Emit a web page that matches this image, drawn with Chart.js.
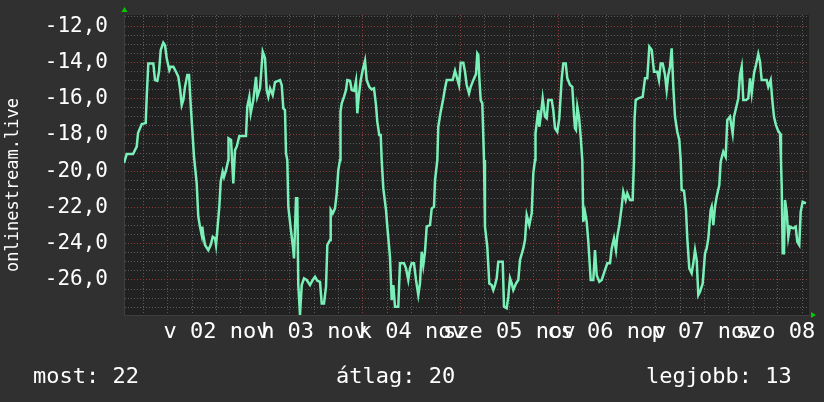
<!DOCTYPE html>
<html>
<head>
<meta charset="utf-8">
<script src="https://cdn.jsdelivr.net/npm/chart.js"></script>
<style>
  html, body { margin: 0; padding: 0; background: #303030; }
  canvas { display: block; }
</style>
</head>
<body>
<canvas id="graph" width="824" height="402"></canvas>
<script>
// hours since "v 02 nov" 00:00
const hours = [
  -10.75, -10.08, -8.53, -7.62, -7.30, -6.39, -5.41, -5.16, -4.77, -3.54, -3.12, -2.56, -2.14, -1.72, -1.08, -0.66, -0.25,
  0.39, 0.74, 1.38, 2.04, 2.61, 3.02, 3.44, 3.84, 4.25, 4.82, 5.24, 5.66, 6.15, 6.47, 7.13, 7.52, 7.94, 8.36, 8.51, 8.75,
  9.17, 9.98, 10.57, 11.07, 11.63, 11.88, 12.20, 12.69, 13.03, 13.52, 13.84, 14.34, 14.90, 14.95, 15.57, 16.13, 16.55,
  16.97, 17.61, 19.25, 19.57, 20.07, 20.41, 21.05, 21.71, 22.03, 22.70, 23.36, 23.93, 24.34, 24.74, 25.16, 25.82, 26.39,
  27.61, 28.03, 28.43, 28.84, 29.09, 29.41, 29.66, 30.25, 30.74, 31.06, 31.30, 31.55, 31.87, 32.11, 32.53, 32.95, 33.52,
  34.18, 34.99, 35.66, 36.22, 36.79, 37.45, 37.87, 38.43, 38.93, 39.25, 39.91, 40.08, 40.57, 41.14, 41.56, 41.95, 42.37,
  42.49, 42.79, 43.35, 43.84, 44.16, 44.83, 45.25, 45.81, 46.30, 46.62, 46.97, 47.46, 47.95, 48.52, 48.93, 49.57, 50.16,
  50.73, 51.22, 51.54, 52.03, 52.38, 52.62, 53.02, 53.68, 54.00, 54.66, 55.08, 55.48, 55.89, 56.70, 57.12, 58.11, 58.60,
  59.16, 59.58, 60.00, 60.56, 61.06, 61.62, 62.04, 62.46, 62.85, 63.27, 63.69, 64.50, 64.92, 65.48, 65.73, 66.30, 66.54,
  67.13, 67.77, 68.19, 68.61, 70.08, 70.65, 71.07, 71.63, 72.05, 72.69, 73.11, 73.52, 74.09, 74.51, 75.15, 75.81, 76.13,
  76.38, 76.62, 76.97, 77.36, 77.78, 78.02, 78.59, 79.08, 79.67, 80.06, 80.48, 80.90, 81.29, 82.38, 82.70, 83.36, 83.75,
  84.17, 84.59, 84.98, 85.65, 86.21, 86.63, 87.44, 87.86, 88.28, 88.92, 89.51, 89.90, 90.32, 90.44, 90.74, 91.13, 91.38,
  91.72, 92.21, 92.78, 93.20, 93.59, 94.43, 94.82, 95.24, 95.80, 96.29, 96.89, 97.28, 97.87, 98.26, 98.93, 99.49, 99.91,
  100.15, 100.40, 100.72, 101.14, 101.55, 101.95, 102.19, 102.61, 103.03, 103.43, 104.02, 104.66, 105.07, 105.49, 106.13,
  106.72, 107.53, 108.10, 108.76, 109.18, 109.74, 110.23, 110.56, 111.05, 111.64, 112.03, 112.62, 113.02, 113.68, 114.34,
  114.66, 114.79, 115.08, 115.72, 116.80, 117.37, 117.93, 118.43, 119.02, 119.58, 120.39, 120.81, 121.23, 121.72, 122.29,
  122.70, 123.10, 123.52, 123.93, 124.33, 124.75, 125.31, 125.80, 126.15, 126.39, 126.96, 127.45, 127.77, 128.26, 128.85,
  129.25, 129.67, 130.08, 130.48, 130.90, 131.56, 132.13, 132.54, 132.94, 133.52, 133.77, 134.17, 134.58, 135.00, 135.64,
  135.98, 136.62, 137.21, 137.61, 138.27, 138.93, 139.26, 139.74, 140.31, 140.73, 141.15, 141.54, 142.21, 142.77, 143.19,
  143.61, 144.17, 144.66, 145.23, 145.65, 146.06, 147.29, 147.69, 148.28, 148.68, 149.09, 149.58, 150.15, 150.57, 150.81,
  150.99, 151.23, 151.55, 151.80, 152.21, 152.61, 153.02, 153.84, 154.43, 154.82, 155.31, 155.66, 156.15, 156.96
];
const values = [
  -19.55, -19.06, -19.06, -18.65, -17.90, -17.40, -17.35, -15.90, -14.06, -14.06, -14.98, -15.02, -14.52, -13.32, -12.92, -13.05, -13.78,
  -14.43, -14.24, -14.24, -14.52, -14.80, -15.43, -16.36, -16.08, -15.35, -14.70, -14.70, -16.36, -18.10, -19.21, -20.67, -22.51, -23.06, -23.52, -23.06, -23.52,
  -24.07, -24.35, -24.07, -23.62, -23.70, -24.07, -23.25, -21.96, -20.58, -20.03, -20.31, -19.94, -19.39, -18.19, -18.28, -20.67, -18.84,
  -18.65, -18.06, -18.06, -16.45, -15.90, -16.81, -16.08, -14.80, -15.90, -15.43, -13.42, -13.78, -15.53, -15.90, -15.43, -15.80, -15.09,
  -14.98, -15.25, -16.54, -16.63, -19.02, -19.39, -21.96, -23.15, -24.07, -24.81, -24.81, -21.50, -21.50, -26.28, -27.93, -26.28, -25.91,
  -26.00, -26.28, -26.00, -25.82, -26.04, -26.10, -27.29, -27.29, -26.37, -24.07, -23.80, -22.14, -22.33, -22.05, -21.22, -19.94, -19.39,
  -16.72, -16.26, -15.90, -15.53, -14.98, -15.02, -15.53, -15.57, -15.02, -16.81, -15.90, -14.98, -14.43, -13.91, -14.98, -15.35, -15.49,
  -15.43, -16.36, -17.28, -18.01, -18.01, -19.39, -20.95, -22.14, -23.06, -24.72, -27.11, -26.28, -27.48, -27.48, -25.08, -25.08, -25.36,
  -26.00, -25.36, -25.08, -25.08, -26.00, -26.83, -26.19, -24.44, -25.18, -24.44, -23.06, -22.97, -22.05, -21.96, -20.49, -19.39, -17.55,
  -16.72, -15.99, -15.43, -14.98, -14.98, -14.46, -14.80, -15.25, -14.02, -14.02, -14.52, -15.25, -15.71, -15.35, -14.98, -14.65, -13.51,
  -13.60, -14.83, -16.08, -16.26, -19.39, -23.06, -24.17, -26.19, -26.28, -26.55, -26.28, -25.91, -25.00, -25.00, -27.48, -27.56, -26.92,
  -25.91, -26.19, -26.55, -26.19, -26.00, -24.90, -24.26, -23.80, -22.42, -22.97, -22.33, -20.12, -19.39, -17.92, -17.36, -16.63, -17.55,
  -17.00, -15.99, -17.00, -17.09, -16.08, -16.08, -16.63, -17.64, -17.83, -17.09, -14.88, -14.06, -14.06, -14.88, -15.25, -15.35, -16.91,
  -17.64, -17.73, -16.45, -17.00, -18.10, -19.39, -22.79, -22.24, -22.79, -23.89, -26.00, -26.00, -24.35, -25.73, -26.10,
  -26.00, -25.45, -25.08, -25.08, -24.26, -23.70, -24.35, -23.58, -22.97, -21.96, -21.13, -21.59, -21.22, -21.59, -21.59,
  -19.39, -17.18, -16.08, -15.99, -15.90, -14.88, -14.88, -13.14, -13.32, -14.52, -14.52, -14.98, -14.06, -14.06, -14.70,
  -15.53, -14.70, -14.24, -13.23, -15.35, -17.00, -17.83, -18.28, -19.39, -21.04, -21.08, -22.14, -23.70, -25.36, -25.63,
  -25.08, -24.35, -24.90, -26.83, -26.65, -26.19, -24.53, -24.26, -23.70, -22.14, -21.96, -22.97, -21.96, -21.41, -20.77,
  -19.48, -18.93, -19.21, -17.18, -17.00, -17.92, -17.00, -16.54, -15.99, -14.70, -14.24, -16.08, -16.08, -15.99, -14.88,
  -15.71, -14.61, -14.15, -13.54, -13.97, -14.98, -14.98, -15.35, -14.98, -16.08, -17.00, -17.46, -17.79, -17.92, -19.39,
  -20.86, -24.53, -24.53, -21.59, -22.24, -23.62, -23.06, -23.15, -23.06, -23.89, -24.07, -22.24, -21.69, -21.77
];

// labels centred at noon of each day
const dayLabels = ['v 02 nov', 'h 03 nov', 'k 04 nov', 'sze 05 nov', 'cs 06 nov', 'p 07 nov', 'szo 08 nov'];
const yMajor = [-12, -14, -16, -18, -20, -22, -24, -26];
const footer = [
  { text: 'most: 22', x: 33 },
  { text: 'átlag: 20', x: 336 },
  { text: 'legjobb: 13', x: 646 }
];
const axisTitle = 'onlinestream.live';

const MONO = '"DejaVu Sans Mono", monospace';
const majorGrid = '#8e3c3c';
const minorGrid = '#5c5c5c';

const rrdDecor = {
  id: 'rrdDecor',
  beforeDraw(chart) {
    const { ctx, chartArea: a } = chart;
    ctx.save();
    ctx.fillStyle = '#212121';
    ctx.fillRect(a.left, a.top, a.right - a.left, a.bottom - a.top);
    ctx.restore();
  },
  afterDraw(chart) {
    const { ctx, chartArea: a } = chart;
    ctx.save();
    // arrows
    ctx.fillStyle = '#00cc00';
    ctx.beginPath();
    ctx.moveTo(a.left - 2.5, a.top - 3);
    ctx.lineTo(a.left + 3.5, a.top - 3);
    ctx.lineTo(a.left + 0.5, a.top - 8);
    ctx.fill();
    ctx.beginPath();
    ctx.moveTo(a.right + 2, a.bottom - 3);
    ctx.lineTo(a.right + 2, a.bottom + 3);
    ctx.lineTo(a.right + 7, a.bottom);
    ctx.fill();

    ctx.fillStyle = '#ffffff';
    // vertical label
    ctx.save();
    ctx.font = '17px ' + MONO;
    ctx.translate(18, 185);
    ctx.rotate(-Math.PI / 2);
    ctx.textAlign = 'center';
    ctx.textBaseline = 'alphabetic';
    ctx.fillText(axisTitle, 0, 0);
    ctx.restore();

    // footer
    ctx.font = '22px ' + MONO;
    ctx.textAlign = 'left';
    ctx.textBaseline = 'alphabetic';
    footer.forEach(f => ctx.fillText(f.text, f.x, 383));
    ctx.restore();
  }
};

const points = hours.map((h, i) => ({ x: h, y: values[i] }));

new Chart(document.getElementById('graph'), {
  type: 'line',
  data: {
    datasets: [{
      data: points,
      borderColor: '#7af0b8',
      borderWidth: 2.5,
      pointRadius: 0,
      tension: 0,
      fill: false
    }]
  },
  options: {
    responsive: false,
    animation: false,
    devicePixelRatio: 1,
    layout: { padding: { left: 0, right: 15, top: 15, bottom: 0 } },
    plugins: { legend: { display: false }, tooltip: { enabled: false } },
    scales: {
      x: {
        type: 'linear',
        min: -10.75,
        max: 157.7,
        afterBuildTicks: s => {
          const t = [];
          for (let h = -6; h <= 156; h += 6) t.push({ value: h });
          s.ticks = t;
        },
        afterFit: s => { s.height = 87; s.paddingLeft = 0; s.paddingRight = 0; },
        ticks: {
          autoSkip: false,
          maxRotation: 0,
          minRotation: 0,
          padding: 4,
          color: '#ffffff',
          font: { family: MONO, size: 22 },
          callback: v => {
            const d = (v - 12) / 24;
            return Number.isInteger(d) && d >= 0 && d < dayLabels.length ? dayLabels[d] : '';
          }
        },
        grid: {
          drawTicks: false,
          color: c => (c.tick && c.tick.value % 24 === 0 ? majorGrid : minorGrid)
        },
        border: { color: '#3e3e3e', dash: [1, 2] }
      },
      y: {
        min: -27.93,
        max: -11.39,
        afterBuildTicks: s => {
          const t = [];
          for (let v = -27.5; v <= -11.5; v += 0.5) t.push({ value: v });
          s.ticks = t;
        },
        afterFit: s => { s.width = 124; s.paddingTop = 0; s.paddingBottom = 0; },
        ticks: {
          autoSkip: false,
          padding: 16,
          color: '#ffffff',
          font: { family: MONO, size: 21 },
          callback: v => (yMajor.includes(v) ? v.toFixed(1).replace('.', ',') : '')
        },
        grid: {
          drawTicks: false,
          color: c => (c.tick && yMajor.includes(c.tick.value) ? majorGrid : minorGrid)
        },
        border: { color: '#3e3e3e', dash: [1, 2] }
      }
    }
  },
  plugins: [rrdDecor]
});
</script>
</body>
</html>
